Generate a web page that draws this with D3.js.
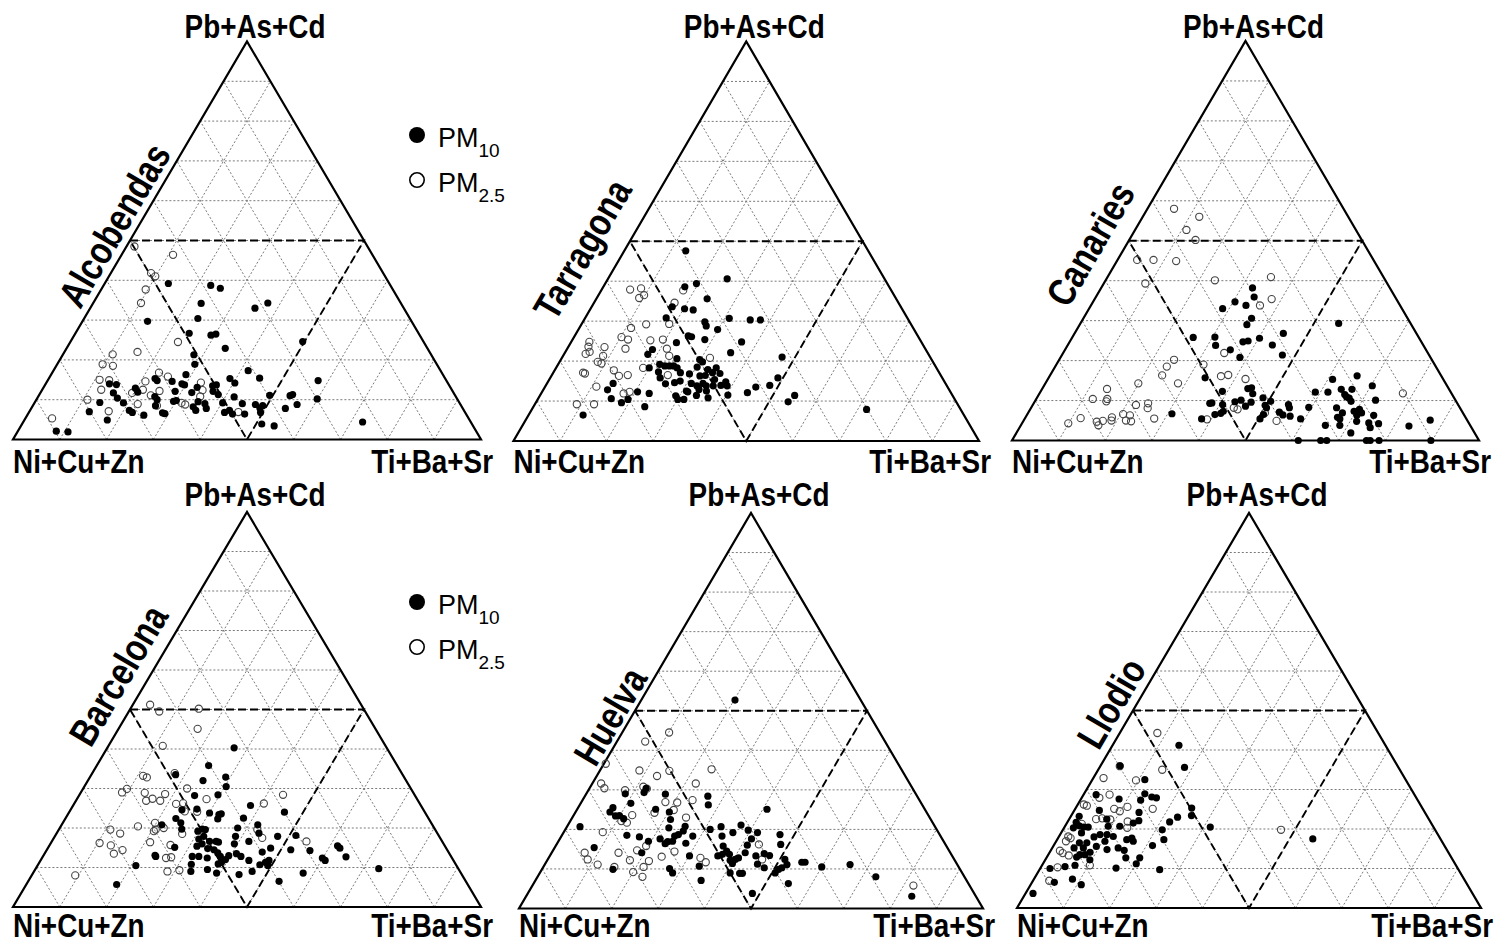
<!DOCTYPE html>
<html><head><meta charset="utf-8">
<script src="https://cdn.jsdelivr.net/npm/d3@7"></script>
<style>body{margin:0;background:#fff}svg{display:block}</style>
</head><body><svg id="c" width="1506" height="947"></svg>
<script>
// ---------- data ----------
const panelNames = ["Alcobendas","Tarragona","Canaries","Barcelona","Huelva","Llodio"];
const apexLabel = "Pb+As+Cd";
const leftLabel = "Ni+Cu+Zn";
const rightLabel = "Ti+Ba+Sr";
const legendLabels = [["PM","10"],["PM","2.5"]];
const gridTicks = [10,20,30,40,50,60,70,80,90];
// each point: [Pb+As+Cd %, Ti+Ba+Sr %]  (Ni+Cu+Zn = 100 - both)
const alcobendasPM10 = [[39.2,13.6],[38.7,22.9],[38.0,25.3],[34.2,23.1],[33.0,35.2],[34.3,37.3],[30.4,24.3],[29.7,13.9],[26.7,24.3],[26.2,29.2],[26.5,30.1],[22.9,33.9],[24.6,49.6],[21.3,28.0],[18.9,29.4],[17.3,41.6],[16.3,28.8],[15.3,38.7],[14.2,40.3],[15.4,45.0],[14.8,57.8],[14.0,13.6],[13.8,15.2],[11.7,15.6],[10.4,17.1],[9.3,13.9],[7.0,12.8],[4.9,17.7],[9.2,19.0],[7.3,21.2],[6.8,22.1],[12.9,19.7],[11.9,20.7],[6.1,24.9],[15.3,22.7],[14.8,23.4],[10.8,24.9],[10.0,25.8],[8.5,26.2],[6.7,28.6],[6.5,29.2],[14.6,26.7],[12.1,28.6],[9.6,29.5],[9.8,30.0],[14.0,29.1],[13.7,29.8],[11.8,32.3],[13.1,32.8],[9.5,34.8],[8.2,34.4],[7.3,35.4],[9.0,36.5],[7.8,37.4],[13.5,35.9],[13.7,36.6],[12.1,36.7],[11.3,38.2],[9.2,40.2],[6.8,41.8],[7.3,42.6],[6.4,43.7],[10.7,41.9],[9.0,44.5],[6.4,46.3],[8.8,47.4],[7.9,48.8],[8.5,49.1],[6.8,49.5],[3.9,51.2],[11.1,49.3],[3.4,54.1],[7.8,54.3],[11.0,53.7],[11.3,54.1],[8.8,56.3],[10.2,59.9],[2.1,8.2],[1.9,10.8],[4.4,72.5]];
const alcobendasPM25 = [[48.5,1.7],[46.4,11.0],[41.8,8.6],[41.0,9.9],[37.7,9.5],[34.3,10.2],[24.5,23.0],[22.0,15.6],[21.4,10.6],[18.9,9.7],[18.5,12.1],[15.0,11.0],[14.9,13.1],[12.5,12.6],[10.0,10.9],[5.3,5.7],[7.1,16.9],[11.7,19.6],[8.9,22.2],[14.6,21.0],[12.5,21.5],[11.1,23.9],[16.8,22.8],[15.8,25.2],[12.2,25.2],[8.5,26.5],[14.3,33.0],[12.4,34.3],[10.8,34.6],[9.2,31.4],[8.8,32.4],[6.9,44.7]];
const tarragonaPM10 = [[47.6,13.2],[40.6,25.6],[39.4,19.6],[38.6,17.5],[35.6,23.8],[33.1,20.2],[32.8,22.2],[33.6,17.3],[30.8,17.4],[30.7,31.0],[30.3,35.7],[30.3,37.9],[29.8,26.2],[28.8,27.0],[27.9,29.9],[26.3,24.4],[26.1,25.2],[25.4,28.4],[24.6,22.7],[24.8,36.6],[22.1,35.6],[21.0,47.2],[22.9,18.4],[21.7,18.0],[20.6,24.8],[20.4,29.8],[19.8,30.7],[19.2,21.8],[18.8,23.1],[18.8,24.1],[18.8,25.0],[18.3,26.0],[18.3,20.0],[17.3,22.5],[15.8,23.6],[17.1,27.3],[16.8,29.4],[18.5,30.2],[17.9,32.8],[18.3,34.4],[16.3,31.9],[16.4,33.0],[17.1,34.2],[15.4,35.5],[16.9,35.9],[14.3,25.5],[14.6,27.3],[15.0,28.3],[14.4,31.0],[13.8,32.5],[12.9,33.4],[14.4,33.5],[13.8,34.5],[13.8,36.0],[13.9,37.6],[14.8,38.2],[13.8,39.0],[15.8,48.9],[13.9,48.1],[13.5,45.3],[12.1,44.2],[11.5,40.3],[11.4,54.7],[9.8,54.1],[12.5,30.9],[11.3,29.2],[10.4,30.1],[10.4,31.4],[11.4,33.6],[10.8,36.4],[12.5,35.2],[14.4,14.2],[12.8,13.8],[12.3,20.5],[11.9,23.2],[10.6,15.7],[9.6,18.4],[10.4,19.4],[8.6,23.9],[6.5,11.7],[7.9,71.9],[12.3,31.3]];
const tarragonaPM25 = [[37.9,6.1],[38.2,8.3],[35.8,9.1],[36.5,9.8],[34.6,17.3],[37.7,17.6],[29.2,13.9],[28.3,11.1],[26.0,10.2],[25.4,11.9],[23.1,12.5],[25.2,16.8],[25.4,19.4],[29.3,18.8],[24.8,3.9],[23.6,4.3],[21.8,4.6],[22.3,5.2],[23.5,7.8],[21.3,8.6],[19.8,8.2],[19.4,9.2],[23.1,21.4],[21.3,22.8],[18.3,18.7],[20.8,31.8],[17.7,12.7],[16.3,14.5],[16.5,16.3],[17.1,6.4],[16.9,6.9],[13.6,11.0],[11.9,17.7],[12.3,18.8],[16.5,24.9],[9.2,9.0],[9.2,12.7]];
const canariesPM10 = [[6.7,30.9],[38.2,32.4],[35.9,33.9],[34.7,30.4],[33.8,33.2],[33.0,28.6],[30.6,36.0],[29.0,35.8],[25.8,25.9],[25.9,30.5],[23.8,31.7],[22.7,35.4],[24.7,37.1],[24.9,38.1],[25.6,40.2],[23.9,43.8],[26.8,44.7],[21.4,47.2],[20.8,38.4],[15.7,33.5],[12.3,38.9],[13.0,44.0],[13.2,44.7],[11.7,45.7],[9.3,37.7],[9.4,38.1],[9.0,40.6],[9.7,42.9],[10.1,44.0],[9.6,46.4],[10.7,48.4],[9.8,50.5],[8.6,45.7],[8.8,49.8],[8.2,50.4],[6.5,50.6],[5.4,50.4],[6.5,40.2],[6.8,41.3],[7.3,41.6],[5.4,37.9],[7.1,53.7],[6.4,54.8],[9.0,54.7],[8.2,55.3],[6.1,56.5],[5.4,59.1],[8.3,59.4],[12.1,58.9],[12.1,61.6],[15.3,61.0],[29.3,55.3],[12.8,64.1],[11.5,65.5],[10.9,66.2],[10.6,66.9],[12.8,66.4],[16.2,65.8],[9.8,67.7],[8.2,65.4],[5.8,66.8],[5.4,67.5],[6.9,67.3],[3.8,65.2],[3.8,68.3],[1.9,71.6],[7.3,69.6],[6.3,70.7],[7.8,70.5],[6.9,71.4],[4.8,71.4],[4.4,74.2],[3.2,75.1],[13.7,70.3],[10.1,72.8],[6.3,74.3],[4.2,76.4],[3.6,83.2],[5.1,87.0],[0,61.3],[0,66.1],[0,67.4],[0,75.9],[0,76.7],[0,78.6],[0,89.7]];
const canariesPM25 = [[58.0,5.7],[56.0,12.1],[52.7,11.0],[50.2,14.2],[45.2,4.2],[45.2,7.7],[44.9,12.7],[39.3,8.9],[20.2,24.6],[18.5,23.9],[16.3,24.0],[14.3,28.4],[14.3,19.9],[12.9,13.9],[10.4,12.1],[10.4,15.2],[9.8,15.3],[8.9,22.1],[9.3,24.5],[8.1,25.0],[4.3,9.9],[5.6,11.9],[4.7,15.8],[3.8,16.6],[4.9,17.0],[5.8,18.5],[5.0,18.8],[6.6,20.5],[6.3,22.1],[5.0,21.9],[4.8,23.1],[5.5,27.7],[40.1,23.4],[40.9,35.0],[35.4,37.9],[33.8,36.2],[21.9,34.5],[19.0,31.5],[16.1,36.7],[16.4,38.1],[15.4,42.3],[8.2,43.4],[7.8,44.4],[5.3,39.1],[4.9,54.2],[11.8,77.8],[6.9,50.7]];
const barcelonaPM10 = [[40.3,27.1],[35.8,23.9],[32.9,29.0],[30.5,30.3],[33.5,18.0],[32.0,24.6],[28.2,24.7],[28.4,29.6],[24.6,23.8],[24.8,26.9],[23.8,30.1],[23.4,32.3],[23.6,32.7],[22.3,32.6],[22.4,23.6],[21.3,25.2],[20.8,21.4],[19.7,26.2],[22.5,38.0],[25.7,37.9],[24.0,46.0],[19.2,29.9],[19.7,30.6],[19.6,31.3],[17.9,31.8],[17.2,31.1],[16.0,32.4],[15.4,31.6],[16.6,33.7],[16.6,35.1],[16.4,35.7],[14.8,34.2],[14.5,35.7],[13.7,36.9],[12.8,37.9],[20.0,38.0],[17.9,38.6],[16.0,39.3],[16.6,42.1],[20.8,41.9],[18.7,43.2],[17.9,47.6],[18.1,51.4],[14.5,52.1],[14.3,56.3],[14.9,47.6],[13.9,46.3],[13.5,41.0],[12.8,42.3],[11.8,44.5],[13.0,39.6],[12.0,39.4],[11.3,38.9],[10.9,38.4],[12.4,35.3],[9.5,36.8],[12.8,33.3],[12.8,31.9],[10.8,32.7],[9.0,33.5],[8.6,39.2],[8.2,44.2],[9.0,46.6],[10.7,47.4],[11.3,48.3],[11.8,48.8],[10.5,49.2],[6.5,53.6],[8.6,57.7],[12.4,59.9],[11.8,60.8],[15.5,61.6],[14.9,62.4],[12.7,64.8],[9.7,73.3],[13.1,23.8],[12.8,24.1],[15.1,27.0],[10.5,21.0],[5.7,19.3]];
const barcelonaPM25 = [[51.2,3.7],[49.5,6.5],[50.2,14.6],[45.1,16.9],[40.8,11.6],[33.2,11.2],[32.8,12.2],[33.9,17.6],[29.9,9.4],[29.0,8.8],[28.9,13.7],[26.9,15.0],[27.4,16.1],[26.9,18.0],[28.6,18.2],[30.0,22.2],[26.1,21.8],[26.3,23.2],[24.2,24.6],[27.3,27.7],[24.1,27.3],[28.4,43.5],[26.2,40.5],[20.4,16.5],[21.3,19.7],[19.2,20.5],[19.6,20.7],[20.0,22.2],[19.6,11.0],[18.6,13.6],[18.5,26.9],[16.2,10.4],[15.6,13.1],[13.5,14.8],[14.4,16.2],[16.4,21.1],[15.7,25.8],[12.6,27.5],[12.4,26.5],[9.0,28.5],[9.3,30.9],[8.0,9.3],[17.5,44.5],[19.6,42.4],[16.6,54.4]];
const huelvaPM10 = [[52.7,20.2],[29.0,8.4],[26.6,10.8],[25.5,7.5],[24.4,7.4],[23.4,9.1],[23.5,9.9],[22.7,11.2],[29.3,12.3],[30.4,12.2],[25.1,16.9],[28.9,17.1],[28.4,26.5],[26.2,27.7],[25.1,40.9],[20.7,2.8],[18.5,14.0],[18.1,16.9],[17.0,19.4],[14.1,19.4],[15.4,8.5],[9.9,15.3],[24.4,20.2],[22.5,21.4],[20.4,22.1],[17.6,21.6],[16.4,23.3],[16.9,23.6],[17.0,24.6],[18.3,24.4],[18.7,25.0],[20.8,25.4],[19.6,25.6],[18.3,28.3],[16.5,27.7],[13.3,30.1],[10.1,27.4],[9.0,28.6],[7.1,35.7],[10.7,33.5],[20.0,31.2],[20.7,33.2],[18.3,34.6],[19.2,36.5],[21.1,37.3],[19.8,39.5],[19.2,41.8],[17.6,41.3],[16.0,41.2],[14.1,41.7],[15.8,36.1],[14.5,37.5],[13.7,38.5],[13.3,36.2],[13.7,37.0],[12.2,39.4],[12.4,40.4],[11.4,40.3],[12.8,40.9],[9.0,41.0],[8.9,43.1],[8.9,43.7],[13.3,44.4],[11.2,45.8],[13.9,45.9],[10.3,47.7],[13.4,47.3],[18.7,46.9],[16.2,48.3],[9.0,50.7],[9.9,51.0],[10.3,51.5],[12.4,51.1],[11.1,52.2],[11.7,55.1],[11.7,55.8],[6.3,54.9],[10.5,60.0],[11.1,65.8],[8.0,72.9],[3.8,48.4],[3.1,83.1]];
const huelvaPM25 = [[44.5,10.1],[42.2,6.1],[35.2,23.9],[34.8,15.0],[34.9,8.5],[33.5,13.0],[31.6,1.9],[30.4,3.2],[29.9,7.9],[30.8,11.4],[30.3,12.4],[36.6,0.4],[31.6,22.3],[27.4,23.7],[26.8,20.7],[26.9,18.1],[24.9,20.9],[24.2,17.1],[23.6,12.6],[22.1,11.0],[21.7,12.4],[23.0,24.5],[19.3,8.4],[15.8,19.5],[14.7,18.1],[14.1,14.4],[14.1,7.1],[12.4,8.6],[11.1,11.4],[10.5,15.3],[12.2,17.8],[12.0,22.0],[10.5,21.6],[8.0,22.6],[9.2,20.0],[13.1,24.2],[14.4,26.3],[12.8,32.7],[11.7,34.4],[16.2,43.6],[12.4,46.2],[5.8,82.1]];
const llodioPM10 = [[41.2,14.3],[35.6,18.3],[32.5,11.3],[36.0,4.2],[28.9,13.1],[28.1,15.0],[27.9,16.1],[27.3,13.0],[27.6,8.2],[28.7,2.7],[25.3,25.0],[23.4,25.9],[23.0,23.1],[21.8,22.0],[20.5,31.4],[19.8,21.4],[17.3,23.0],[15.8,21.3],[17.5,55.0],[24.2,14.2],[22.1,15.2],[21.5,14.3],[24.7,5.4],[22.5,8.1],[20.7,9.3],[20.7,11.8],[18.1,11.7],[18.6,10.1],[18.6,8.6],[18.0,7.6],[23.2,1.8],[21.7,1.9],[20.3,2.0],[20.8,3.0],[20.5,4.1],[20.5,5.1],[19.0,4.4],[16.5,6.8],[16.5,5.2],[15.2,4.7],[15.2,6.7],[13.5,6.8],[13.5,7.9],[12.9,6.4],[14.1,8.7],[12.2,9.6],[10.8,7.1],[10.5,5.1],[10.0,2.1],[6.5,4.8],[7.3,8.3],[5.9,10.9],[3.7,1.6],[10.1,16.3],[12.7,17.1],[16.9,16.6],[17.7,15.9],[17.3,15.0],[14.6,15.8],[16.9,10.5],[14.8,12.0],[11.2,20.1],[12.7,20.1],[9.7,25.9],[15.2,14.2],[15.6,9.3]];
const llodioPM25 = [[44.3,8.1],[35.0,13.8],[35.9,4.2],[32.9,2.2],[32.3,9.5],[28.7,5.6],[27.9,3.8],[26.2,1.3],[25.9,2.1],[25.1,8.4],[24.5,9.9],[25.6,11.0],[25.1,16.7],[22.5,5.8],[22.7,7.0],[21.9,12.9],[20.3,13.6],[21.3,3.3],[18.1,2.0],[17.7,2.7],[16.9,2.1],[14.5,2.0],[13.9,2.9],[13.3,4.5],[10.8,10.3],[10.3,3.6],[6.9,3.5],[19.8,47.0],[22.4,8.9]];

const seriesPM10 = [alcobendasPM10, tarragonaPM10, canariesPM10, barcelonaPM10, huelvaPM10, llodioPM10];
const seriesPM25 = [alcobendasPM25, tarragonaPM25, canariesPM25, barcelonaPM25, huelvaPM25, llodioPM25];

// ---------- layout (positions / styles) ----------
const layout = [
  {left:13,    right:481,  base:439.5, apex:41.5, title:[114,225], apexBase:38,  bottomBase:473, legendY:135},
  {left:513.5, right:979,  base:441,   apex:41.5, title:[582,249], apexBase:38,  bottomBase:473},
  {left:1012,  right:1479, base:440.5, apex:41,   title:[1090,244], apexBase:38,  bottomBase:473},
  {left:13,    right:481,  base:907,   apex:512,  title:[118,675], apexBase:506, bottomBase:937, legendY:602},
  {left:519,   right:983,  base:908.5, apex:513,  title:[610,716], apexBase:506, bottomBase:937},
  {left:1017,  right:1481, base:908,   apex:513,  title:[1111,703], apexBase:506, bottomBase:937}
];
const FONT = "'Liberation Sans', Arial, Helvetica, sans-serif";
const NARROW = 0.82;

const svg = d3.select("#c");
svg.append("rect").attr("width",1506).attr("height",947).attr("fill","#fff");

layout.forEach((L, i) => {
  const g = svg.append("g");
  const xs = d3.scaleLinear().domain([0,100]).range([L.left, L.right]);
  const ys = d3.scaleLinear().domain([0,100]).range([L.base, L.apex]);
  const P = (t, r) => [xs(r + t/2), ys(t)];
  const line = d3.line();

  // grid
  const grid = g.append("g").attr("fill","none").attr("stroke","#7a7a7a")
    .attr("stroke-width",1).attr("stroke-dasharray","2,2");
  gridTicks.forEach(k => {
    grid.append("path").attr("d", line([P(k,0), P(k,100-k)]));
    grid.append("path").attr("d", line([P(0,k), P(100-k,k)]));
    grid.append("path").attr("d", line([P(0,100-k), P(100-k,0)]));
  });

  // medial dashed triangle
  g.append("path").attr("d", line([P(50,0), P(50,50), P(0,50), P(50,0)]))
    .attr("fill","none").attr("stroke","#000").attr("stroke-width",1.9)
    .attr("stroke-dasharray","8,4");

  // outline
  g.append("path").attr("d", line([P(0,0), P(0,100), P(100,0)]) + "Z")
    .attr("fill","none").attr("stroke","#000").attr("stroke-width",2.2)
    .attr("stroke-linejoin","miter");

  // points
  g.append("g").selectAll("circle").data(seriesPM25[i]).join("circle")
    .attr("cx", d => P(d[0], d[1])[0]).attr("cy", d => P(d[0], d[1])[1])
    .attr("r",3.6).attr("fill","none").attr("stroke","#444").attr("stroke-width",1.1);
  g.append("g").selectAll("circle").data(seriesPM10[i]).join("circle")
    .attr("cx", d => P(d[0], d[1])[0]).attr("cy", d => P(d[0], d[1])[1])
    .attr("r",3.6).attr("fill","#000");

  // corner labels
  const apexX = (L.left + L.right)/2;
  const lab = (txt, x, y, anchor) => g.append("text").text(txt)
    .attr("transform", `translate(${x},${y}) scale(${NARROW},1)`)
    .attr("text-anchor", anchor).attr("font-family", FONT)
    .attr("font-weight","bold").attr("font-size",34).attr("fill","#000");
  lab(apexLabel, apexX + 8, L.apexBase, "middle");
  lab(leftLabel, L.left, L.bottomBase, "start");
  lab(rightLabel, L.right + 12, L.bottomBase, "end");

  // rotated panel title parallel to the left edge
  const W = L.right - L.left, H = L.base - L.apex;
  const ang = Math.atan2(H, W/2);
  const upx = -Math.sin(ang), upy = -Math.cos(ang);   // glyph "up" direction
  const half = 14;
  const bx = L.title[0] - upx*half, by = L.title[1] - upy*half;
  g.append("text").text(panelNames[i])
    .attr("transform", `translate(${bx},${by}) rotate(${-ang*180/Math.PI}) scale(${NARROW},1)`)
    .attr("text-anchor","middle").attr("font-family", FONT)
    .attr("font-weight","bold").attr("font-size",39).attr("fill","#000");

  // legend
  if (L.legendY !== undefined) {
    const lg = g.append("g");
    const y0 = L.legendY, y1 = L.legendY + 45;
    lg.append("circle").attr("cx",417).attr("cy",y0).attr("r",8).attr("fill","#000");
    lg.append("circle").attr("cx",417).attr("cy",y1).attr("r",7.2).attr("fill","none")
      .attr("stroke","#000").attr("stroke-width",1.6);
    [y0, y1].forEach((yy, j) => {
      const t = lg.append("text").attr("x",438).attr("y",yy + 11.5)
        .attr("font-family", FONT).attr("font-size",27).attr("fill","#000");
      t.append("tspan").text(legendLabels[j][0]);
      t.append("tspan").text(legendLabels[j][1]).attr("font-size",19).attr("dy",10);
    });
  }
});
</script>
</body></html>
